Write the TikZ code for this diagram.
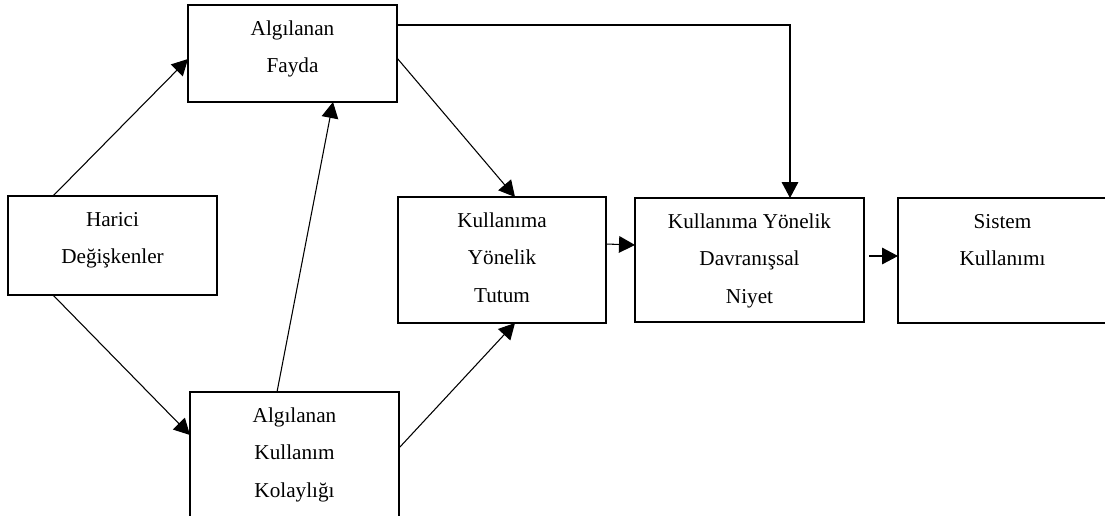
\documentclass[tikz,border=0pt]{standalone}
\usepackage{fontspec}
\setmainfont{Liberation Serif}
\usetikzlibrary{arrows.meta,calc}
\tikzset{
  box/.style={draw=black, line width=1.5pt, rectangle, inner sep=0pt, outer sep=0pt, minimum width=156.75pt},
  label/.style={anchor=north, inner sep=0pt, outer sep=0pt, align=center, font=\fontsize{15.9}{28}\selectfont},
  conn/.style={draw=black, line width=0.8pt, -{Triangle[length=12pt,width=12.5pt]}},
}
\newcommand{\firstline}{\rule{0pt}{22.8pt}}
\begin{document}
\begin{tikzpicture}[x=0.75pt,y=-0.75pt]
\clip (0,0) rectangle (1105,515);
\fill[white] (0,0) rectangle (1105,515);
% boxes
\node[box, minimum height=74.25pt] (harici) at (112.5,245.5) {};
\node[box, minimum height=72.75pt] (fayda) at (292.5,53.5) {};
\node[box, minimum height=93.75pt] (kolay) at (294.5,454.5) {};
\node[box, minimum width=156pt, minimum height=94.5pt] (tutum) at (502,260) {};
\node[box, minimum width=171.75pt, minimum height=93pt] (niyet) at (749.5,260) {};
\node[box, minimum height=93.75pt] (sistem) at (1002.5,260.5) {};
% texts
\node[label] (tharici) at (harici.north) {\firstline Harici\\Değişkenler};
\node[label] (tfayda) at (fayda.north) {\firstline Algılanan\\Fayda};
\node[label] (tkolay) at (kolay.north) {\firstline Algılanan\\Kullanım\\Kolaylığı};
\node[label] (ttutum) at (tutum.north) {\firstline Kullanıma\\Yönelik\\Tutum};
\node[label] (tniyet) at (niyet.north) {\firstline Kullanıma Yönelik\\Davranışsal\\Niyet};
\node[label] (tsistem) at (sistem.north) {\firstline Sistem\\Kullanımı};
% connectors
\draw[conn] ($(harici.north west)+(45,0)$) -- ($(fayda.north west)+(0,54)$);
\draw[conn] ($(harici.south west)+(45,0)$) -- ($(kolay.north west)+(0,43)$);
\draw[conn] ($(kolay.north west)+(87,0)$) -- ($(fayda.south west)+(145,0)$);
\draw[conn] ($(fayda.north east)+(0,53)$) -- ($(tutum.north west)+(117,0)$);
\draw[conn] ($(kolay.north east)+(0,56)$) -- ($(tutum.south west)+(117,0)$);
\draw[conn] ($(fayda.north east)+(0,20)$) -| ($(niyet.north west)+(155,0)$);
\draw[conn] ($(tutum.north east)+(0,47)$) -- ($(niyet.north west)+(0,47)$);
\draw[conn] ($(niyet.north east)+(5,58)$) -- ($(sistem.north west)+(0,58)$);
\end{tikzpicture}
\end{document}
